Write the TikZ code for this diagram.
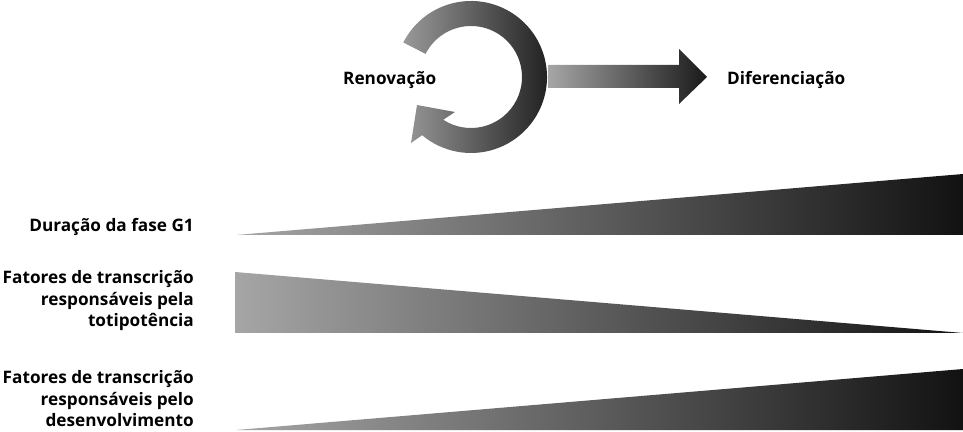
\documentclass[tikz,border=0pt]{standalone}
\usepackage{fontspec}
\setmainfont{Open Sans}
\begin{document}
\begin{tikzpicture}[x=1pt,y=1pt,
  txt/.style={font=\fontsize{17.2}{21}\selectfont\bfseries, inner sep=0pt},
  lbl/.style={txt, anchor=base east},
  ttl/.style={txt, anchor=base west}]
\useasboundingbox (0,0) rectangle (963,431);

% self-renewal circular arrow
\coordinate (c) at (471,354);
\shade[left color=black!40, right color=black!90]
  (c) ++(153:76) arc[start angle=153, end angle=-130, radius=76]
  -- (411,288) -- (417,326) -- (455,319)
  -- ([shift={(-123:51)}]c) arc[start angle=-123, end angle=153, radius=51] -- cycle;

% differentiation arrow
\shade[left color=black!35, right color=black!90]
  (548,366) -- (679,366) -- (679,382) -- (707,354) -- (679,327) -- (679,343) -- (548,343) -- cycle;

\node[ttl] (ren) at (343,346) {Renovação};
\node[ttl] (dif) at (727,346) {Diferenciação};

% wedges
\shade[left color=black!35, right color=black!93] (236,196) -- (963,257) -- (963,196) -- cycle;
\shade[left color=black!35, right color=black!93] (235,159) -- (963,98) -- (235,98) -- cycle;
\shade[left color=black!35, right color=black!93] (236,1) -- (963,62) -- (963,1) -- cycle;

\node[lbl] (g1) at (194,199.5) {Duração da fase G1};
\node[lbl] (ta) at (194,147) {Fatores de transcrição};
\node[lbl] (tb) at (194,125.5) {responsáveis pela};
\node[lbl] (tc) at (194,104) {totipotência};
\node[lbl] (da) at (194,47.5) {Fatores de transcrição};
\node[lbl] (db) at (194,26) {responsáveis pelo};
\node[lbl] (dc) at (194,4.5) {desenvolvimento};
\end{tikzpicture}
\end{document}
